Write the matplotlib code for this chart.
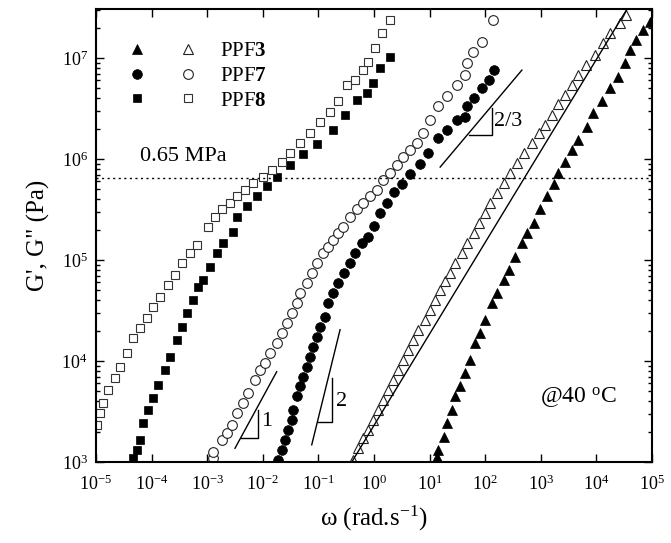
import numpy as np
import matplotlib.pyplot as plt
from matplotlib.legend_handler import HandlerTuple

plt.rcParams['font.family'] = ['Liberation Serif', 'DejaVu Serif']
plt.rcParams['mathtext.fontset'] = 'custom'
plt.rcParams['mathtext.rm'] = 'Liberation Serif'
plt.rcParams['mathtext.it'] = 'Liberation Serif:italic'
plt.rcParams['mathtext.bf'] = 'Liberation Serif:bold'
plt.rcParams['axes.unicode_minus'] = False

# data, stored as log10(omega) and log10(G)
# PPF8
ppf8_gp_lw = [-4.33, -4.27, -4.21, -4.15, -4.06, -3.97, -3.88, -3.76, -3.67, -3.55, -3.46, -3.37,
              -3.25, -3.16, -3.08, -2.95, -2.83, -2.72, -2.54, -2.47, -2.29, -2.11, -1.93, -1.75,
              -1.51, -1.28, -1.03, -0.74, -0.52, -0.31, -0.13, -0.02, 0.11, 0.29]
ppf8_gp_lg = [3.04, 3.12, 3.22, 3.39, 3.51, 3.63, 3.76, 3.91, 4.04, 4.21, 4.34, 4.48,
              4.60, 4.73, 4.80, 4.93, 5.07, 5.17, 5.28, 5.43, 5.53, 5.63, 5.73, 5.82,
              5.94, 6.05, 6.15, 6.29, 6.44, 6.58, 6.65, 6.75, 6.90, 7.01]
ppf8_gpp_lw = [-4.99, -4.93, -4.87, -4.78, -4.66, -4.57, -4.45, -4.33, -4.21, -4.09, -3.97, -3.85,
               -3.71, -3.58, -3.46, -3.31, -3.19, -2.99, -2.86, -2.74, -2.59, -2.47, -2.32, -2.18,
               -2.0, -1.84, -1.66, -1.51, -1.33, -1.15, -0.97, -0.79, -0.65, -0.49, -0.34, -0.20,
               -0.11, 0.02, 0.14, 0.29]
ppf8_gpp_lg = [3.37, 3.49, 3.58, 3.71, 3.83, 3.94, 4.08, 4.23, 4.33, 4.43, 4.53, 4.63,
               4.75, 4.85, 4.97, 5.07, 5.15, 5.33, 5.43, 5.50, 5.56, 5.63, 5.69, 5.76,
               5.82, 5.89, 5.97, 6.06, 6.16, 6.26, 6.37, 6.47, 6.57, 6.73, 6.78, 6.88,
               6.96, 7.10, 7.25, 7.38]
# PPF7
ppf7_gp_lw = [-1.72, -1.66, -1.60, -1.54, -1.48, -1.45, -1.39, -1.33, -1.28, -1.21, -1.15, -1.10,
              -1.03, -0.97, -0.88, -0.82, -0.74, -0.65, -0.54, -0.43, -0.34, -0.22, -0.11, 0.0,
              0.11, 0.23, 0.36, 0.50, 0.65, 0.83, 0.98, 1.16, 1.31, 1.49, 1.64, 1.67, 1.79,
              1.94, 2.06, 2.16]
ppf7_gp_lg = [3.02, 3.12, 3.22, 3.32, 3.42, 3.51, 3.65, 3.75, 3.84, 3.94, 4.04, 4.14,
              4.24, 4.34, 4.44, 4.57, 4.67, 4.77, 4.87, 4.97, 5.07, 5.17, 5.23, 5.34,
              5.47, 5.56, 5.67, 5.75, 5.85, 5.95, 6.06, 6.21, 6.29, 6.39, 6.42, 6.52, 6.60,
              6.70, 6.78, 6.88]
ppf7_gpp_lw = [-2.89, -2.89, -2.74, -2.65, -2.56, -2.47, -2.36, -2.27, -2.14, -2.05, -1.96, -1.87,
               -1.75, -1.66, -1.57, -1.48, -1.39, -1.33, -1.21, -1.12, -1.03, -0.92, -0.83, -0.74,
               -0.65, -0.56, -0.43, -0.31, -0.20, -0.07, 0.05, 0.16, 0.29, 0.41, 0.52, 0.65,
               0.77, 0.88, 1.01, 1.15, 1.31, 1.49, 1.64, 1.67, 1.78, 1.94, 2.14]
ppf7_gpp_lg = [3.04, 3.10, 3.22, 3.29, 3.37, 3.49, 3.58, 3.68, 3.81, 3.91, 3.98, 4.08,
               4.18, 4.28, 4.38, 4.48, 4.57, 4.67, 4.77, 4.87, 4.97, 5.07, 5.13, 5.20,
               5.27, 5.33, 5.43, 5.50, 5.56, 5.63, 5.69, 5.79, 5.86, 5.94, 6.02, 6.09,
               6.16, 6.26, 6.39, 6.52, 6.62, 6.73, 6.83, 6.95, 7.06, 7.16, 7.38]
# PPF3
ppf3_gp_lw = [1.13, 1.16, 1.25, 1.31, 1.40, 1.46, 1.55, 1.64, 1.73, 1.82, 1.91, 2.0,
              2.12, 2.21, 2.33, 2.42, 2.54, 2.66, 2.75, 2.87, 2.99, 3.11, 3.23, 3.31,
              3.44, 3.56, 3.67, 3.83, 3.94, 4.10, 4.24, 4.39, 4.51, 4.60, 4.72, 4.84, 4.96]
ppf3_gp_lg = [3.05, 3.12, 3.25, 3.39, 3.51, 3.65, 3.75, 3.88, 4.01, 4.18, 4.28, 4.41,
              4.57, 4.67, 4.80, 4.90, 5.03, 5.17, 5.27, 5.37, 5.50, 5.63, 5.75, 5.86,
              5.97, 6.09, 6.19, 6.32, 6.46, 6.57, 6.70, 6.81, 6.95, 7.08, 7.18, 7.28, 7.36]
ppf3_gpp_lw = [-0.37, -0.28, -0.19, -0.10, -0.01, 0.08, 0.17, 0.26, 0.35, 0.44, 0.53, 0.62,
               0.71, 0.80, 0.92, 1.01, 1.10, 1.19, 1.28, 1.37, 1.46, 1.58, 1.67, 1.79,
               1.88, 2.0, 2.09, 2.21, 2.33, 2.45, 2.57, 2.69, 2.84, 2.96, 3.08, 3.20,
               3.31, 3.44, 3.56, 3.67, 3.82, 3.97, 4.12, 4.24, 4.42, 4.54]
ppf3_gpp_lg = [3.02, 3.14, 3.24, 3.32, 3.42, 3.51, 3.61, 3.71, 3.81, 3.91, 4.01, 4.11,
               4.21, 4.31, 4.41, 4.50, 4.60, 4.70, 4.79, 4.87, 4.97, 5.07, 5.17, 5.27,
               5.37, 5.47, 5.56, 5.66, 5.76, 5.86, 5.96, 6.06, 6.16, 6.26, 6.34, 6.44,
               6.54, 6.63, 6.73, 6.83, 6.93, 7.03, 7.15, 7.25, 7.35, 7.43]
# fit line through PPF3 G''
fit3_lw = [-0.40, 4.54]
fit3_lg = [3.0, 7.475]

# slope guides (log10 coords)
slope1_line_lw = [-2.50, -1.75]
slope1_line_lg = [3.136, 3.894]
slope1_tri_lw = [-2.39, -2.09, -2.09]
slope1_tri_lg = [3.24, 3.24, 3.51]
slope2_line_lw = [-1.12, -0.61]
slope2_line_lg = [3.17, 4.31]
slope2_tri_lw = [-1.0, -0.76, -0.76]
slope2_tri_lg = [3.40, 3.40, 3.83]
slope23_line_lw = [1.19, 2.66]
slope23_line_lg = [5.92, 6.88]
slope23_tri_lw = [1.70, 2.12, 2.12]
slope23_tri_lg = [6.24, 6.24, 6.50]

g_plateau = 6.5e5


def p(v):
    return 10 ** np.array(v)


fig = plt.figure(figsize=(6.71, 5.43), dpi=100)
ax = fig.add_axes([96 / 671, 81 / 543, 556 / 671, 453 / 543])
ax.set_xscale('log')
ax.set_yscale('log')

ms_sq = 6.3
ms_ci = 7.0
ms_tr = 7.5
mew = 0.8

f8, = ax.plot(p(ppf8_gp_lw), p(ppf8_gp_lg), 's', color='k', ms=ms_sq, mew=0.5, ls='none')
o8, = ax.plot(p(ppf8_gpp_lw), p(ppf8_gpp_lg), 's', mfc='white', mec='#333333', ms=ms_sq, mew=mew, ls='none')
f7, = ax.plot(p(ppf7_gp_lw), p(ppf7_gp_lg), 'o', color='k', ms=ms_ci, mew=0.5, ls='none')
o7, = ax.plot(p(ppf7_gpp_lw), p(ppf7_gpp_lg), 'o', mfc='white', mec='#222222', ms=ms_ci, mew=mew, ls='none')
f3, = ax.plot(p(ppf3_gp_lw), p(ppf3_gp_lg), '^', color='k', ms=ms_tr, mew=0.5, ls='none')
o3, = ax.plot(p(ppf3_gpp_lw), p(ppf3_gpp_lg), '^', mfc='white', mec='#222222', ms=ms_tr, mew=mew, ls='none')
ax.plot(p(fit3_lw), p(fit3_lg), color='k', lw=1.0)

ax.axhline(g_plateau, color='k', lw=1.0, ls=(0, (1.5, 2.5)))

for lw_, lg_ in [(slope1_line_lw, slope1_line_lg), (slope1_tri_lw, slope1_tri_lg),
                 (slope2_line_lw, slope2_line_lg), (slope2_tri_lw, slope2_tri_lg),
                 (slope23_line_lw, slope23_line_lg), (slope23_tri_lw, slope23_tri_lg)]:
    ax.plot(p(lw_), p(lg_), color='k', lw=1.0)

ax.text(10 ** -1.93, 10 ** 3.40, '1', fontsize=16, va='center', ha='center')
ax.text(10 ** -0.58, 10 ** 3.60, '2', fontsize=16, va='center', ha='center')
ax.text(10 ** 2.16, 10 ** 6.37, '2/3', fontsize=16, va='center', ha='left')
ax.text(10 ** -4.21, 10 ** 6.02, '0.65 MPa', fontsize=16, va='center', ha='left')
ax.text(10 ** 2.99, 10 ** 3.64, '@40 $^{\\mathrm{o}}$C', fontsize=17, va='center', ha='left')

ax.set_xlim(1e-5, 1e5)
ax.set_ylim(1e3, 10 ** 7.485)
ax.set_xticks([10.0 ** k for k in range(-5, 6)])
ax.set_yticks([10.0 ** k for k in range(3, 8)])

ax.tick_params(which='both', direction='in', top=True, right=True, width=1.0)
ax.tick_params(which='major', length=6, labelsize=13)
ax.tick_params(which='minor', length=3)
ax.tick_params(axis='x', which='major', pad=9)
ax.tick_params(axis='y', which='major', pad=6)
for s in ax.spines.values():
    s.set_linewidth(1.5)

ax.set_xlabel('ω (rad.s$^{\\mathrm{-1}}$)', fontsize=18, labelpad=7)
ax.set_ylabel('G\', G" (Pa)', fontsize=18, labelpad=8)

leg = ax.legend([(f3, o3), (f7, o7), (f8, o8)],
                ['PPF$\\mathbf{3}$', 'PPF$\\mathbf{7}$', 'PPF$\\mathbf{8}$'],
                handler_map={tuple: HandlerTuple(ndivide=None, pad=0.5)},
                handlelength=4.4, handletextpad=0.55, labelspacing=0.25,
                frameon=False, fontsize=15, loc='upper left',
                bbox_to_anchor=(0.038, 0.928), borderaxespad=0, borderpad=0)

fig.savefig('out.png', dpi=100)
